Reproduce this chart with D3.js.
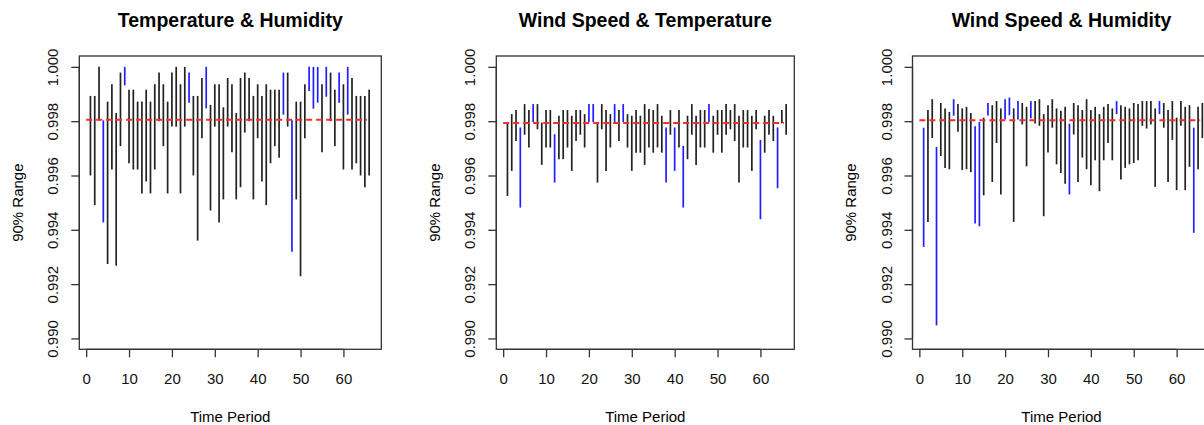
<!DOCTYPE html>
<html>
<head>
<meta charset="utf-8">
<script src="https://cdn.jsdelivr.net/npm/d3@7"></script>
<style>
  body { margin: 0; background: #fff; }
  svg { display: block; font-family: "Liberation Sans", Arial, sans-serif; }
</style>
</head>
<body>
<svg id="chart" width="1204" height="425"></svg>
<script>
// time periods 1..66
const periods = d3.range(1, 67);

// Temperature & Humidity: upper / lower end of the 90% range
const thHigh = [0.99893, 0.99893, 1.0000, 0.99803, 0.99872, 0.99936, 0.99830, 0.99979, 1.0000, 0.99916,
  0.99916, 0.99872, 0.99872, 0.99916, 0.99872, 0.99936, 0.99979, 0.99936, 0.99872, 0.99979,
  1.0000, 0.99936, 1.0000, 0.99979, 0.99893, 0.99893, 0.99959, 1.0000, 0.99860, 0.99936,
  0.99936, 0.99851, 0.99959, 0.99936, 0.99830, 0.99959, 0.99979, 0.99959, 0.99893, 0.99936,
  0.99893, 0.99936, 0.99916, 0.99916, 0.99916, 0.99979, 0.99979, 0.99803, 0.99872, 0.99872,
  0.99936, 1.0000, 1.0000, 1.0000, 0.99936, 1.0000, 0.99979, 0.99916, 0.99979, 0.99936,
  1.0000, 0.99959, 0.99893, 0.99893, 0.99893, 0.99916];
const thLow = [0.99600, 0.99491, 0.99803, 0.99427, 0.99274, 0.99622, 0.99268, 0.99708, 0.99932, 0.99645,
  0.99622, 0.99622, 0.99534, 0.99578, 0.99534, 0.99622, 0.99800, 0.99708, 0.99534, 0.99780,
  0.99780, 0.99534, 0.99780, 0.99868, 0.99600, 0.99360, 0.99737, 0.99847, 0.99471, 0.99780,
  0.99427, 0.99512, 0.99780, 0.99686, 0.99512, 0.99557, 0.99758, 0.99800, 0.99512, 0.99737,
  0.99578, 0.99491, 0.99645, 0.99708, 0.99665, 0.99824, 0.99780, 0.99319, 0.99512, 0.99229,
  0.99737, 0.99911, 0.99846, 0.99868, 0.99686, 0.99890, 0.99800, 0.99708, 0.99868, 0.99622,
  0.99824, 0.99622, 0.99645, 0.99600, 0.99557, 0.99600];
const thBlue = [4, 9, 24, 28, 46, 48, 52, 53, 54, 56, 59, 61];
const thRef = 0.99805;

// Wind Speed & Temperature
const wtHigh = [0.99795, 0.99826, 0.99841, 0.99777, 0.99863, 0.99841, 0.99863, 0.99863, 0.99795, 0.99841,
  0.99841, 0.99752, 0.99820, 0.99841, 0.99841, 0.99820, 0.99841, 0.99841, 0.99826, 0.99863,
  0.99863, 0.99795, 0.99863, 0.99841, 0.99826, 0.99863, 0.99841, 0.99863, 0.99826, 0.99820,
  0.99841, 0.99820, 0.99863, 0.99845, 0.99841, 0.99863, 0.99820, 0.99777, 0.99841, 0.99777,
  0.99841, 0.99709, 0.99820, 0.99863, 0.99820, 0.99841, 0.99841, 0.99863, 0.99820, 0.99841,
  0.99841, 0.99863, 0.99841, 0.99863, 0.99820, 0.99841, 0.99841, 0.99820, 0.99841, 0.99731,
  0.99820, 0.99841, 0.99820, 0.99777, 0.99841, 0.99863];
const wtLow = [0.99525, 0.99617, 0.99727, 0.99482, 0.99750, 0.99703, 0.99797, 0.99770, 0.99639, 0.99703,
  0.99703, 0.99574, 0.99660, 0.99660, 0.99703, 0.99617, 0.99727, 0.99750, 0.99703, 0.99797,
  0.99797, 0.99574, 0.99770, 0.99617, 0.99703, 0.99797, 0.99727, 0.99797, 0.99703, 0.99617,
  0.99684, 0.99684, 0.99639, 0.99703, 0.99684, 0.99703, 0.99684, 0.99574, 0.99750, 0.99617,
  0.99703, 0.99482, 0.99660, 0.99750, 0.99639, 0.99703, 0.99703, 0.99797, 0.99684, 0.99750,
  0.99684, 0.99750, 0.99770, 0.99727, 0.99574, 0.99703, 0.99703, 0.99617, 0.99770, 0.99439,
  0.99684, 0.99750, 0.99727, 0.99553, 0.99792, 0.99750];
const wtBlue = [4, 7, 12, 20, 21, 26, 28, 38, 40, 42, 48, 60, 64];
const wtRef = 0.99793;

// Wind Speed & Humidity
const whHigh = [0.99776, 0.99841, 0.99881, 0.99705, 0.99867, 0.99847, 0.99834, 0.99881, 0.99863, 0.99847,
  0.99853, 0.99830, 0.99781, 0.99797, 0.99813, 0.99867, 0.99859, 0.99874, 0.99847, 0.99881,
  0.99887, 0.99847, 0.99874, 0.99867, 0.99853, 0.99874, 0.99874, 0.99881, 0.99826, 0.99859,
  0.99881, 0.99847, 0.99838, 0.99853, 0.99791, 0.99867, 0.99859, 0.99841, 0.99881, 0.99841,
  0.99853, 0.99826, 0.99853, 0.99863, 0.99847, 0.99874, 0.99859, 0.99853, 0.99847, 0.99867,
  0.99863, 0.99874, 0.99874, 0.99874, 0.99847, 0.99874, 0.99867, 0.99841, 0.99874, 0.99813,
  0.99874, 0.99853, 0.99859, 0.99776, 0.99853, 0.99867];
const whLow = [0.99337, 0.99429, 0.99738, 0.99048, 0.99672, 0.99628, 0.99623, 0.99820, 0.99761, 0.99620,
  0.99623, 0.99612, 0.99423, 0.99413, 0.99527, 0.99821, 0.99576, 0.99720, 0.99530, 0.99806,
  0.99822, 0.99429, 0.99806, 0.99788, 0.99634, 0.99810, 0.99791, 0.99783, 0.99450, 0.99685,
  0.99776, 0.99641, 0.99609, 0.99570, 0.99530, 0.99751, 0.99576, 0.99666, 0.99623, 0.99564,
  0.99656, 0.99542, 0.99656, 0.99720, 0.99656, 0.99826, 0.99585, 0.99628, 0.99641, 0.99646,
  0.99656, 0.99783, 0.99773, 0.99788, 0.99558, 0.99826, 0.99776, 0.99576, 0.99731, 0.99546,
  0.99783, 0.99546, 0.99632, 0.99389, 0.99623, 0.99738];
const whBlue = [1, 4, 8, 13, 14, 16, 20, 21, 23, 26, 35, 46, 56, 64];
const whRef = 0.99803;

const titles = ["Temperature & Humidity", "Wind Speed & Temperature", "Wind Speed & Humidity"];
const xTicks = [0, 10, 20, 30, 40, 50, 60];
const yTicks = [0.990, 0.992, 0.994, 0.996, 0.998, 1.000];

const panels = [
  { title: titles[0], high: thHigh, low: thLow, blue: thBlue, ref: thRef },
  { title: titles[1], high: wtHigh, low: wtLow, blue: wtBlue, ref: wtRef },
  { title: titles[2], high: whHigh, low: whLow, blue: whBlue, ref: whRef }
];

// layout of the three plot regions
const panelLeft = [79.3, 496.3, 912.5];
const panelWidth = [302, 298, 298];
const plotTop = 56, plotBottom = 349.3;

var svg = d3.select("#chart");

panels.forEach(function(p, i) {
  var left = panelLeft[i];
  var x = d3.scaleLinear().domain([-1.6, 68.6]).range([left, left + 301]);
  var y = d3.scaleLinear().domain([0.9896, 1.0004]).range([plotBottom, plotTop]);
  var g = svg.append("g");

  // title
  g.append("text")
    .attr("x", left + panelWidth[i] / 2)
    .attr("y", 26.5)
    .attr("text-anchor", "middle")
    .style("font-size", "19.5px")
    .style("font-weight", "bold")
    .text(p.title);

  // box
  g.append("rect")
    .attr("x", left).attr("y", plotTop)
    .attr("width", panelWidth[i]).attr("height", plotBottom - plotTop)
    .attr("fill", "none").attr("stroke", "#333").attr("stroke-width", 1.3);

  // x axis
  var xAxis = g.append("g")
    .attr("transform", "translate(0," + plotBottom + ")")
    .call(d3.axisBottom(x).tickValues(xTicks).tickSize(8).tickPadding(16).tickSizeOuter(0));
  xAxis.attr("font-family", null).attr("font-size", null);
  xAxis.select(".domain")
    .attr("d", "M" + x(xTicks[0]) + ",0H" + x(xTicks[xTicks.length - 1]));
  xAxis.selectAll("line, path").attr("stroke", "#333").attr("stroke-width", 1.3);
  xAxis.selectAll("text").style("font-size", "15px").attr("fill", "#111");

  // y axis
  var yAxis = g.append("g")
    .attr("transform", "translate(" + left + ",0)")
    .call(d3.axisLeft(y).tickValues(yTicks).tickFormat(d3.format(".3f")).tickSize(8).tickSizeOuter(0));
  yAxis.attr("font-family", null).attr("font-size", null);
  yAxis.select(".domain")
    .attr("d", "M0," + y(yTicks[0]) + "V" + y(yTicks[yTicks.length - 1]));
  yAxis.selectAll("line, path").attr("stroke", "#333").attr("stroke-width", 1.3);
  yAxis.selectAll("text")
    .attr("x", null).attr("dy", null)
    .attr("transform", "translate(-21,0) rotate(-90)")
    .attr("text-anchor", "middle")
    .attr("fill", "#111")
    .style("font-size", "15px");

  // axis titles
  g.append("text")
    .attr("x", left + panelWidth[i] / 2)
    .attr("y", 421.5)
    .attr("text-anchor", "middle")
    .style("font-size", "15px")
    .text("Time Period");

  g.append("text")
    .attr("transform", "translate(" + (left - 56.5) + "," + ((plotTop + plotBottom) / 2) + ") rotate(-90)")
    .attr("text-anchor", "middle")
    .style("font-size", "15px")
    .text("90% Range");

  // range segments
  g.selectAll(".seg")
    .data(periods)
    .enter().append("line")
    .attr("class", "seg")
    .attr("x1", function(d) { return x(d); })
    .attr("x2", function(d) { return x(d); })
    .attr("y1", function(d, j) { return y(p.high[j]); })
    .attr("y2", function(d, j) { return y(p.low[j]); })
    .attr("stroke", function(d) { return p.blue.indexOf(d) >= 0 ? "#1f1fff" : "#222"; })
    .attr("stroke-width", 1.7);

  // reference line
  g.append("line")
    .attr("x1", x(0)).attr("x2", x(65.5))
    .attr("y1", y(p.ref)).attr("y2", y(p.ref))
    .attr("stroke", "#ff2a2a")
    .attr("stroke-width", 2)
    .attr("stroke-dasharray", "6,4");
});
</script>
</body>
</html>
